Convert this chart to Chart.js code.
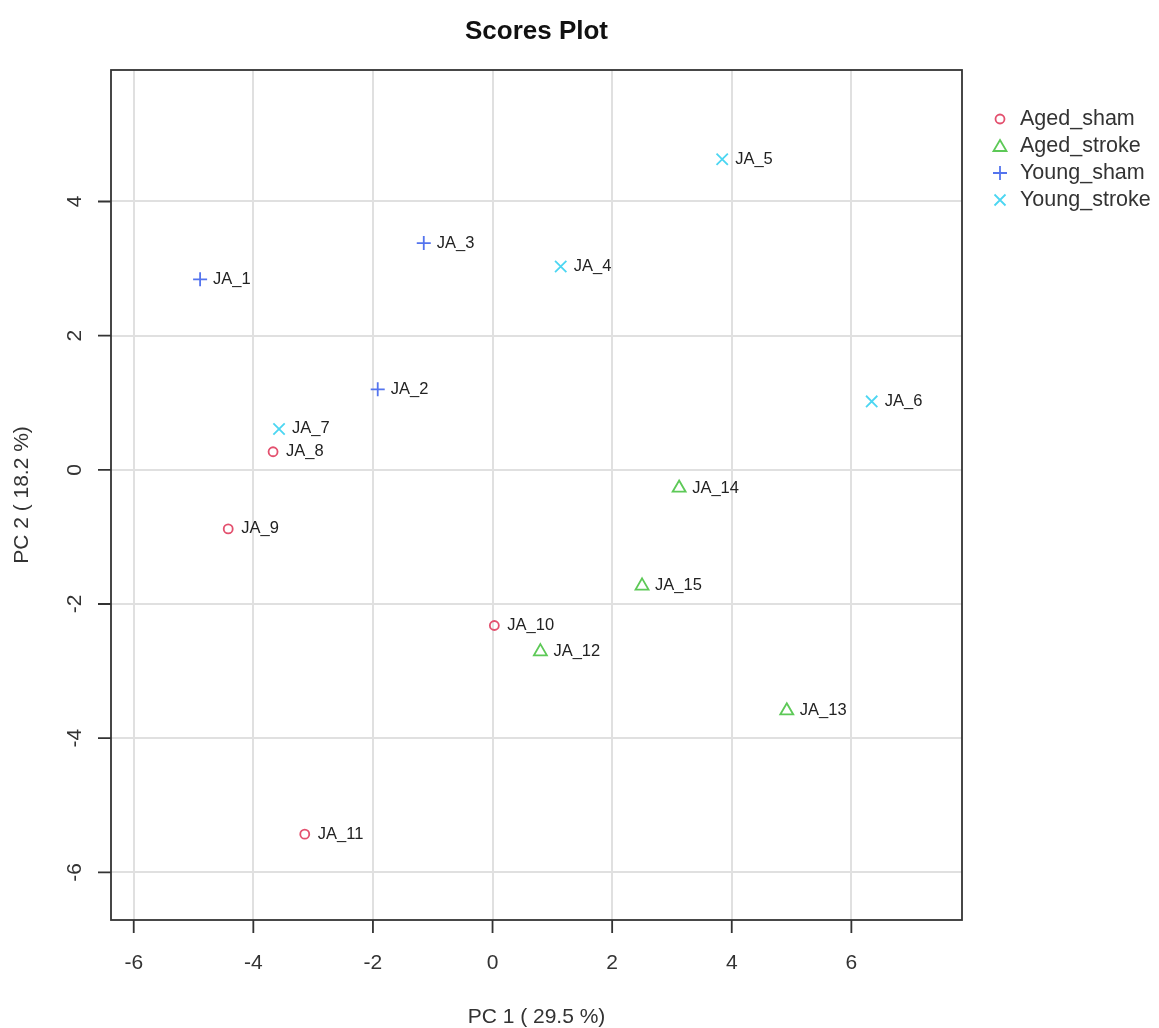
<!DOCTYPE html>
<html><head><meta charset="utf-8">
<script src="https://cdn.jsdelivr.net/npm/chart.js@4.4.0/dist/chart.umd.min.js"></script>
<style>html,body{margin:0;padding:0;background:#fff;}#wrap{width:1159px;height:1028px;position:relative;}</style>
</head><body><div id="wrap"><canvas id="c" width="1159" height="1028"></canvas></div>
<script>
const sampleNames = ["JA_1","JA_2","JA_3","JA_4","JA_5","JA_6","JA_7","JA_8","JA_9","JA_10","JA_11","JA_12","JA_13","JA_14","JA_15"];
const pc1 = [-4.89,-1.92,-1.15,1.14,3.84,6.34,-3.57,-3.67,-4.42,0.03,-3.14,0.80,4.92,3.12,2.50];
const pc2 = [2.84,1.20,3.38,3.03,4.63,1.02,0.61,0.27,-0.88,-2.32,-5.43,-2.71,-3.59,-0.27,-1.73];
const sampleGroup = ["Young_sham","Young_sham","Young_sham","Young_stroke","Young_stroke","Young_stroke","Young_stroke","Aged_sham","Aged_sham","Aged_sham","Aged_sham","Aged_stroke","Aged_stroke","Aged_stroke","Aged_stroke"];
const groups = ["Aged_sham","Aged_stroke","Young_sham","Young_stroke"];
const groupColors = ["#E3506E","#5DC957","#5474EE","#4CD6F2"];
const groupShapes = ["circle","triangle","cross","crossRot"];
const xTicks = [-6,-4,-2,0,2,4,6];
const yTicks = [-6,-4,-2,0,2,4];
const xTitle = "PC 1 ( 29.5 %)";
const yTitle = "PC 2 ( 18.2 %)";
const chartTitle = "Scores Plot";

const FONT = "'Liberation Sans', Arial, sans-serif";
const shapeRadius = {circle:4.5, triangle:7.5, cross:7, crossRot:8};
const datasets = groups.map((g,gi)=>{
  const data=[];
  sampleGroup.forEach((sg,i)=>{ if(sg===g) data.push({x:pc1[i],y:pc2[i],name:sampleNames[i]}); });
  return {label:g,data,pointStyle:groupShapes[gi],borderColor:groupColors[gi],backgroundColor:'rgba(0,0,0,0)',
    pointRadius: shapeRadius[groupShapes[gi]],pointBorderWidth:1.8,pointHoverRadius:6};
});

const deco = {
  id:'deco',
  afterDraw(chart){
    const ctx=chart.ctx, a=chart.chartArea, xs=chart.scales.x, ys=chart.scales.y;
    ctx.save();
    // data labels
    ctx.fillStyle='#222'; ctx.font='16.5px '+FONT; ctx.textAlign='left'; ctx.textBaseline='middle';
    chart.data.datasets.forEach((ds,di)=>{
      const meta=chart.getDatasetMeta(di);
      meta.data.forEach((pt,i)=>{ ctx.fillText(ds.data[i].name, pt.x+13, pt.y); });
    });
    // box
    ctx.strokeStyle='#333'; ctx.lineWidth=1.8;
    ctx.strokeRect(a.left,a.top,a.right-a.left,a.bottom-a.top);
    // ticks
    ctx.beginPath();
    xTicks.forEach(v=>{const px=xs.getPixelForValue(v); ctx.moveTo(px,a.bottom); ctx.lineTo(px,a.bottom+13);});
    yTicks.forEach(v=>{const py=ys.getPixelForValue(v); ctx.moveTo(a.left,py); ctx.lineTo(a.left-13,py);});
    ctx.stroke();
    ctx.fillStyle='#333'; ctx.font='21px '+FONT;
    ctx.textAlign='center'; ctx.textBaseline='middle';
    xTicks.forEach(v=>{ctx.fillText(String(v), xs.getPixelForValue(v), a.bottom+43);});
    yTicks.forEach(v=>{const py=ys.getPixelForValue(v); ctx.save(); ctx.translate(a.left-36,py); ctx.rotate(-Math.PI/2); ctx.fillText(String(v),0,0); ctx.restore();});
    // axis titles
    ctx.font='21px '+FONT;
    ctx.fillText(xTitle,(a.left+a.right)/2,1017);
    ctx.save(); ctx.translate(22,(a.top+a.bottom)/2); ctx.rotate(-Math.PI/2); ctx.fillText(yTitle,0,0); ctx.restore();
    // title
    ctx.fillStyle='#111'; ctx.font='bold 26px '+FONT;
    ctx.fillText(chartTitle,(a.left+a.right)/2,32);
    // legend
    ctx.font='21.5px '+FONT; ctx.textAlign='left';
    groups.forEach((g,gi)=>{
      const yy=119+gi*27, cx=1000;
      ctx.strokeStyle=groupColors[gi]; ctx.lineWidth=1.8;
      ctx.beginPath();
      const sh=groupShapes[gi];
      if(sh==='circle'){ctx.arc(cx,yy,4.5,0,Math.PI*2);}
      else if(sh==='triangle'){ctx.moveTo(cx,yy-6); ctx.lineTo(cx+6.5,yy+5); ctx.lineTo(cx-6.5,yy+5); ctx.closePath();}
      else if(sh==='cross'){ctx.moveTo(cx-7,yy); ctx.lineTo(cx+7,yy); ctx.moveTo(cx,yy-7); ctx.lineTo(cx,yy+7);}
      else {const d=5.5; ctx.moveTo(cx-d,yy-d); ctx.lineTo(cx+d,yy+d); ctx.moveTo(cx+d,yy-d); ctx.lineTo(cx-d,yy+d);}
      ctx.stroke();
      ctx.fillStyle='#333'; ctx.fillText(g,1020,yy);
    });
    ctx.restore();
  }
};

new Chart(document.getElementById('c'),{
  type:'scatter',
  data:{datasets},
  options:{
    responsive:false, animation:false, devicePixelRatio:1,
    layout:{padding:{left:111,right:197,top:70,bottom:108}},
    plugins:{legend:{display:false},tooltip:{enabled:false},title:{display:false}},
    scales:{
      x:{type:'linear',min:-6.38,max:7.85,
        afterBuildTicks:s=>{s.ticks=xTicks.map(v=>({value:v}));},
        afterFit:s=>{s.height=0;},
        ticks:{display:false},border:{display:false},
        grid:{color:'#e0e0e0',lineWidth:2,drawTicks:false}},
      y:{type:'linear',min:-6.71,max:5.96,
        afterBuildTicks:s=>{s.ticks=yTicks.map(v=>({value:v}));},
        afterFit:s=>{s.width=0;},
        ticks:{display:false},border:{display:false},
        grid:{color:'#e0e0e0',lineWidth:2,drawTicks:false}}
    }
  },
  plugins:[deco]
});
</script></body></html>
